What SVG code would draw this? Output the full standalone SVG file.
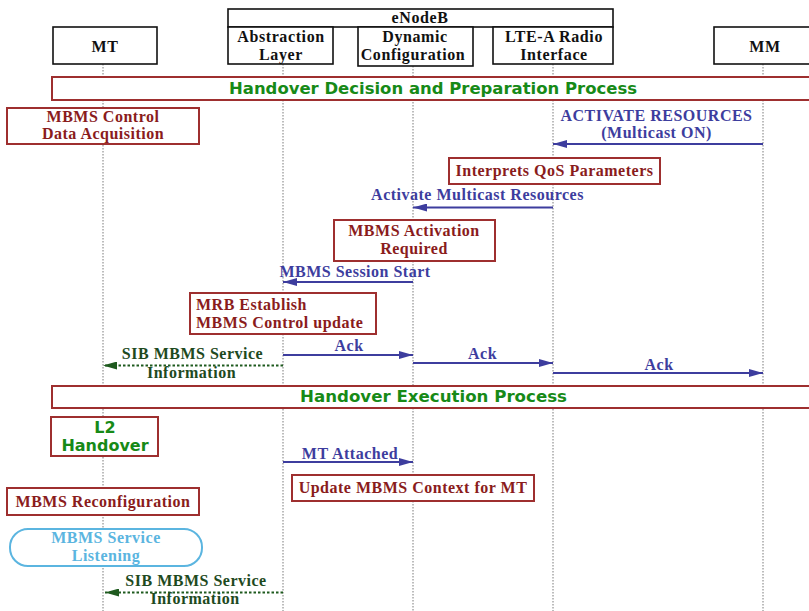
<svg xmlns="http://www.w3.org/2000/svg" width="809" height="611" viewBox="0 0 809 611">
  <style>
    .hdr { fill: #ffffff; stroke: #111111; stroke-width: 1.6; }
    .hdr-t { font-family: "Liberation Serif", "Times New Roman", serif; font-weight: bold; font-size: 16px; letter-spacing: 0.6px; fill: #111111; text-anchor: middle; }
    .life { stroke: #7a7a7a; stroke-width: 1; stroke-dasharray: 1.5 1.5; fill: none; }
    .band { fill: #ffffff; stroke: #9e2f2f; stroke-width: 2; }
    .band-t { font-family: "DejaVu Sans", Verdana, sans-serif; font-weight: bold; font-size: 16.5px; fill: #178a17; text-anchor: middle; }
    .act { fill: #ffffff; stroke: #9e2f2f; stroke-width: 2; }
    .act-t { font-family: "Liberation Serif", "Times New Roman", serif; font-weight: bold; font-size: 16px; letter-spacing: 0.5px; fill: #8a1c1c; text-anchor: middle; }
    .act-l { text-anchor: start; }
    .msg { stroke: #3d3d9e; stroke-width: 2; fill: none; marker-end: url(#headBlue); }
    .msg-t { font-family: "Liberation Serif", "Times New Roman", serif; font-weight: bold; font-size: 16px; letter-spacing: 0.5px; fill: #3d3d9e; text-anchor: middle; }
    .bcast { stroke: #1e5a1e; stroke-width: 2; stroke-dasharray: 2.5 2; fill: none; marker-end: url(#headGreen); }
    .bcast-t { font-family: "Liberation Serif", "Times New Roman", serif; font-weight: bold; font-size: 16px; letter-spacing: 0.5px; fill: #1e4a1e; text-anchor: middle; }
    .state { fill: #ffffff; stroke: #5bb5e0; stroke-width: 2; }
    .state-t { font-family: "Liberation Serif", "Times New Roman", serif; font-weight: bold; font-size: 16px; letter-spacing: 0.5px; fill: #5bb5e0; text-anchor: middle; }
    .l2-t { font-family: "DejaVu Sans", Verdana, sans-serif; font-weight: bold; font-size: 16px; fill: #178a17; text-anchor: middle; }
  </style>
  <defs>
    <marker id="headBlue" viewBox="0 0 14 8" refX="14" refY="4" markerWidth="14" markerHeight="8" markerUnits="userSpaceOnUse" orient="auto">
      <path d="M0,0 L14,4 L0,8 z" fill="#3d3d9e"/>
    </marker>
    <marker id="headGreen" viewBox="0 0 14 8" refX="14" refY="4" markerWidth="14" markerHeight="8" markerUnits="userSpaceOnUse" orient="auto">
      <path d="M0,0 L14,4 L0,8 z" fill="#1e5a1e"/>
    </marker>
  </defs>

  <rect x="0" y="0" width="809" height="611" fill="#ffffff"/>

  <!-- lifelines -->
  <g id="lifelines">
    <line class="life" x1="103" y1="64" x2="103" y2="611"/>
    <line class="life" x1="283" y1="64" x2="283" y2="611"/>
    <line class="life" x1="413" y1="66" x2="413" y2="611"/>
    <line class="life" x1="553" y1="64" x2="553" y2="611"/>
    <line class="life" x1="763" y1="64" x2="763" y2="611"/>
  </g>

  <!-- participants -->
  <g id="mt">
    <rect class="hdr" x="53" y="27" width="104" height="37"/>
    <text class="hdr-t" x="105" y="52">MT</text>
  </g>
  <g id="enodeb">
    <rect class="hdr" x="228" y="9" width="385" height="18"/>
    <text class="hdr-t" x="420" y="23">eNodeB</text>
  </g>
  <g id="abstraction-layer">
    <rect class="hdr" x="228" y="27" width="105" height="37"/>
    <text class="hdr-t" x="281" y="42">Abstraction</text>
    <text class="hdr-t" x="281" y="60">Layer</text>
  </g>
  <g id="dynamic-configuration">
    <rect class="hdr" x="358" y="27" width="115" height="39"/>
    <text class="hdr-t" x="415" y="42">Dynamic</text>
    <text class="hdr-t" x="413" y="60">Configuration</text>
  </g>
  <g id="lte-a-radio">
    <rect class="hdr" x="493" y="27" width="120" height="37"/>
    <text class="hdr-t" x="554" y="42">LTE-A Radio</text>
    <text class="hdr-t" x="554" y="60">Interface</text>
  </g>
  <g id="mm">
    <rect class="hdr" x="714" y="27" width="100" height="37"/>
    <text class="hdr-t" x="765" y="52">MM</text>
  </g>

  <!-- phase bands -->
  <g id="phase-decision">
    <rect class="band" x="52" y="77" width="770" height="23"/>
    <text class="band-t" x="433" y="94" textLength="408" lengthAdjust="spacingAndGlyphs">Handover Decision and Preparation Process</text>
  </g>
  <g id="phase-execution">
    <rect class="band" x="52" y="386" width="770" height="22"/>
    <text class="band-t" x="433.5" y="402" textLength="267" lengthAdjust="spacingAndGlyphs">Handover Execution Process</text>
  </g>

  <!-- actions -->
  <g id="mbms-control-acquisition">
    <rect class="act" x="7" y="108" width="192" height="36"/>
    <text class="act-t" x="103" y="122">MBMS Control</text>
    <text class="act-t" x="103" y="139">Data Acquisition</text>
  </g>
  <g id="interprets-qos">
    <rect class="act" x="449" y="158" width="211" height="26"/>
    <text class="act-t" x="554.5" y="176">Interprets QoS Parameters</text>
  </g>
  <g id="mbms-activation">
    <rect class="act" x="334" y="220" width="161" height="41"/>
    <text class="act-t" x="414" y="236">MBMS Activation</text>
    <text class="act-t" x="414" y="254">Required</text>
  </g>
  <g id="mrb-establish">
    <rect class="act" x="190" y="293" width="186" height="41"/>
    <text class="act-t act-l" x="196" y="310">MRB Establish</text>
    <text class="act-t act-l" x="196" y="328">MBMS Control update</text>
  </g>
  <g id="l2-handover">
    <rect class="act" x="51" y="417" width="107" height="39"/>
    <text class="l2-t" x="105" y="433">L2</text>
    <text class="l2-t" x="105" y="451">Handover</text>
  </g>
  <g id="update-context">
    <rect class="act" x="292" y="475" width="242" height="26"/>
    <text class="act-t" x="413" y="493">Update MBMS Context for MT</text>
  </g>
  <g id="mbms-reconfiguration">
    <rect class="act" x="7" y="488" width="192" height="27"/>
    <text class="act-t" x="103" y="507">MBMS Reconfiguration</text>
  </g>
  <g id="service-listening">
    <rect class="state" x="10" y="529" width="192" height="37" rx="18" ry="18"/>
    <text class="state-t" x="106" y="543">MBMS Service</text>
    <text class="state-t" x="106" y="561">Listening</text>
  </g>

  <!-- messages -->
  <g id="connectors">
    <line class="msg" x1="763" y1="144" x2="553" y2="144"/>
    <text class="msg-t" x="656.5" y="121">ACTIVATE RESOURCES</text>
    <text class="msg-t" x="656.5" y="138">(Multicast ON)</text>

    <line class="msg" x1="553" y1="207.5" x2="413" y2="207.5"/>
    <text class="msg-t" x="477.5" y="200">Activate Multicast Resources</text>

    <line class="msg" x1="413" y1="282" x2="283" y2="282"/>
    <text class="msg-t" x="355" y="277">MBMS Session Start</text>

    <line class="msg" x1="283" y1="355" x2="413" y2="355"/>
    <text class="msg-t" x="349" y="351">Ack</text>

    <line class="bcast" x1="283" y1="365.5" x2="103" y2="365.5"/>
    <text class="bcast-t" x="192.5" y="359">SIB MBMS Service</text>
    <text class="bcast-t" x="191.5" y="378">Information</text>

    <line class="msg" x1="413" y1="363" x2="553" y2="363"/>
    <text class="msg-t" x="482.5" y="359">Ack</text>

    <line class="msg" x1="553" y1="373" x2="763" y2="373"/>
    <text class="msg-t" x="659" y="370">Ack</text>

    <line class="msg" x1="283" y1="462" x2="413" y2="462"/>
    <text class="msg-t" x="350" y="459">MT Attached</text>

    <line class="bcast" x1="283" y1="592.5" x2="105" y2="592.5"/>
    <text class="bcast-t" x="196" y="586">SIB MBMS Service</text>
    <text class="bcast-t" x="195" y="604">Information</text>
  </g>
</svg>
